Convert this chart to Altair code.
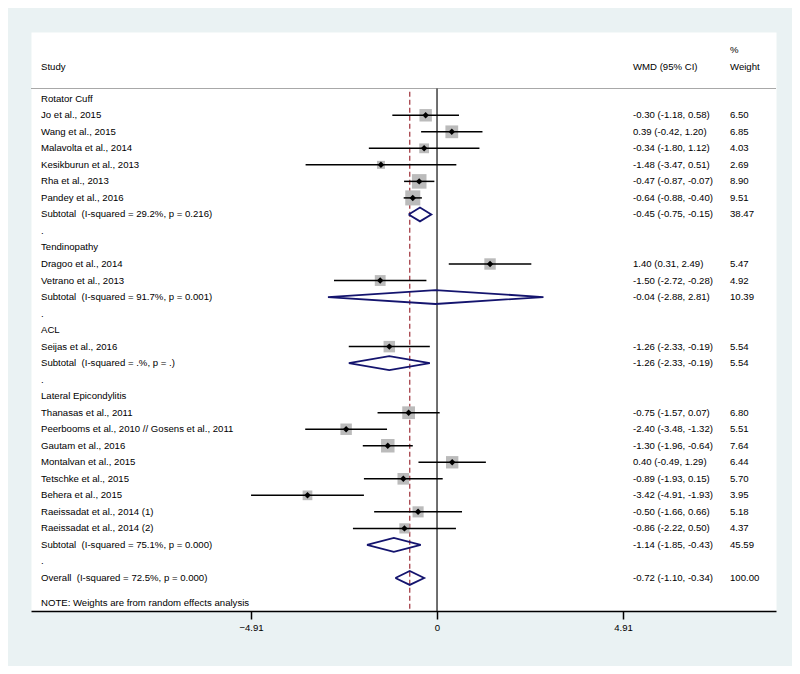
import altair as alt
import pandas as pd

# ---------------- data ----------------
labels = [
    "Rotator Cuff", "Jo et al., 2015", "Wang et al., 2015", "Malavolta et al., 2014",
    "Kesikburun et al., 2013", "Rha et al., 2013", "Pandey et al., 2016",
    "Subtotal\u00a0 (I-squared = 29.2%, p = 0.216)", ".",
    "Tendinopathy", "Dragoo et al., 2014", "Vetrano et al., 2013",
    "Subtotal\u00a0 (I-squared = 91.7%, p = 0.001)", ".",
    "ACL", "Seijas et al., 2016", "Subtotal\u00a0 (I-squared = .%, p = .)", ".",
    "Lateral Epicondylitis", "Thanasas et al., 2011",
    "Peerbooms et al., 2010 // Gosens et al., 2011", "Gautam et al., 2016",
    "Montalvan et al., 2015", "Tetschke et al., 2015", "Behera et al., 2015",
    "Raeissadat et al., 2014 (1)", "Raeissadat et al., 2014 (2)",
    "Subtotal\u00a0 (I-squared = 75.1%, p = 0.000)", ".",
    "Overall\u00a0 (I-squared = 72.5%, p = 0.000)",
]
kinds = (["group"] + ["study"] * 6 + ["pooled", "blank"]
         + ["group"] + ["study"] * 2 + ["pooled", "blank"]
         + ["group"] + ["study"] + ["pooled", "blank"]
         + ["group"] + ["study"] * 8 + ["pooled", "blank"]
         + ["pooled"])
est = [None, -0.30, 0.39, -0.34, -1.48, -0.47, -0.64, -0.45, None,
       None, 1.40, -1.50, -0.04, None,
       None, -1.26, -1.26, None,
       None, -0.75, -2.40, -1.30, 0.40, -0.89, -3.42, -0.50, -0.86, -1.14, None,
       -0.72]
lo = [None, -1.18, -0.42, -1.80, -3.47, -0.87, -0.88, -0.75, None,
      None, 0.31, -2.72, -2.88, None,
      None, -2.33, -2.33, None,
      None, -1.57, -3.48, -1.96, -0.49, -1.93, -4.91, -1.66, -2.22, -1.85, None,
      -1.10]
hi = [None, 0.58, 1.20, 1.12, 0.51, -0.07, -0.40, -0.15, None,
      None, 2.49, -0.28, 2.81, None,
      None, -0.19, -0.19, None,
      None, 0.07, -1.32, -0.64, 1.29, 0.15, -1.93, 0.66, 0.50, -0.43, None,
      -0.34]
weights = [None, 6.50, 6.85, 4.03, 2.69, 8.90, 9.51, 38.47, None,
           None, 5.47, 4.92, 10.39, None,
           None, 5.54, 5.54, None,
           None, 6.80, 5.51, 7.64, 6.44, 5.70, 3.95, 5.18, 4.37, 45.59, None,
           100.00]
tick_values = [-4.91, 0, 4.91]
overall_est = -0.72
note_text = "NOTE: Weights are from random effects analysis"

# ---------------- layout constants ----------------
W, H = 745, 579
XMIN, XMAX = -10.72, 8.95
YMIN, YMAX = -4.04, 31.0
HDR_ROW = -0.62
FONT = "Liberation Sans"
FS = 9.6
NAVY = "#14146E"
MAROON = "#9E3039"

rows = pd.DataFrame({"row": list(range(len(labels))), "label": labels, "kind": kinds,
                     "est": est, "lo": lo, "hi": hi, "wt": weights})


def ci_text(r):
    if pd.isna(r["est"]):
        return ""
    return f"{r['est']:.2f} ({r['lo']:.2f}, {r['hi']:.2f})"


rows["ci"] = rows.apply(ci_text, axis=1)
rows["wtxt"] = rows["wt"].apply(lambda v: "" if pd.isna(v) else f"{v:.2f}")
studies = rows[rows["kind"] == "study"].copy()
studies["area"] = studies["wt"] * 23.8
pooled = rows[rows["kind"] == "pooled"]

dh = 0.42
verts = []
for _, r in pooled.iterrows():
    pts = [(r["lo"], r["row"]), (r["est"], r["row"] - dh), (r["hi"], r["row"]),
           (r["est"], r["row"] + dh), (r["lo"], r["row"])]
    for k, (xx, yy) in enumerate(pts):
        verts.append({"id": int(r["row"]), "o": k, "x": xx, "y": yy})
diam = pd.DataFrame(verts)

xs = alt.Scale(domain=[XMIN, XMAX], nice=False, zero=False)
ys = alt.Scale(domain=[YMIN, YMAX], nice=False, zero=False, reverse=True)
AX = alt.Axis(values=tick_values, grid=False, title=None,
              labelExpr="datum.value == 0 ? '0' : format(datum.value, '.2f')")


def X(f):
    return alt.X(f, scale=xs, axis=AX, title=None)


def Y(f):
    return alt.Y(f, scale=ys, axis=None, title=None)


hdr = alt.Chart(pd.DataFrame({"a": [XMIN], "b": [XMAX], "y": [HDR_ROW]})).mark_rule(
    color="#A8A8A8", strokeWidth=1.2).encode(x=X("a:Q"), x2="b:Q", y=Y("y:Q"))

zero = alt.Chart(pd.DataFrame({"x": [0], "y": [HDR_ROW], "y2": [YMAX]})).mark_rule(
    color="#222222", strokeWidth=1.3).encode(x=X("x:Q"), y=Y("y:Q"), y2="y2:Q")

dash = alt.Chart(pd.DataFrame({"x": [overall_est], "y": [HDR_ROW + 0.2], "y2": [YMAX]})).mark_rule(
    color=MAROON, strokeWidth=1.2, strokeDash=[5, 3]).encode(x=X("x:Q"), y=Y("y:Q"), y2="y2:Q")

boxes = alt.Chart(studies).mark_square(color="#BBBBBB", opacity=1).encode(
    x=X("est:Q"), y=Y("row:Q"), size=alt.Size("area:Q", scale=None, legend=None))

cis = alt.Chart(studies).mark_rule(color="black", strokeWidth=1.5).encode(
    x=X("lo:Q"), x2="hi:Q", y=Y("row:Q"))

pts = alt.Chart(studies).mark_point(shape="diamond", filled=True, color="black",
                                    opacity=1, size=42).encode(x=X("est:Q"), y=Y("row:Q"))

dia = alt.Chart(diam).mark_line(color=NAVY, strokeWidth=1.8, strokeJoin="miter").encode(
    x=X("x:Q"), y=Y("y:Q"), detail="id:N", order="o:Q")

tstyle = dict(font=FONT, fontSize=FS, color="black", align="left", baseline="middle")
lab = alt.Chart(rows).mark_text(**tstyle).encode(x=alt.value(10), y=Y("row:Q"), text="label:N")
cit = alt.Chart(rows).mark_text(**tstyle).encode(x=alt.value(602), y=Y("row:Q"), text="ci:N")
wtt = alt.Chart(rows).mark_text(**tstyle).encode(x=alt.value(699), y=Y("row:Q"), text="wtxt:N")

head_left = alt.Chart(pd.DataFrame({"y": [-1.92, 30.49], "t": ["Study", note_text]})).mark_text(
    **tstyle).encode(x=alt.value(10), y=Y("y:Q"), text="t:N")
head_ci = alt.Chart(pd.DataFrame({"y": [-1.92], "t": ["WMD (95% CI)"]})).mark_text(
    **tstyle).encode(x=alt.value(602), y=Y("y:Q"), text="t:N")
head_w = alt.Chart(pd.DataFrame({"y": [-2.95, -1.92], "t": ["%", "Weight"]})).mark_text(
    **tstyle).encode(x=alt.value(699), y=Y("y:Q"), text="t:N")

chart = alt.layer(hdr, zero, dash, boxes, cis, pts, dia, lab, cit, wtt,
                  head_left, head_ci, head_w).properties(
    width=W, height=H,
    autosize=alt.AutoSizeParams(type="none"),
    padding={"left": 23, "top": 24, "right": 16, "bottom": 55},
    background="#EAF2F3",
).configure_view(fill="white", stroke="transparent").configure_axisX(
    domainColor="black", domainWidth=1.6, tickColor="black", tickWidth=1.5,
    tickSize=8, labelFont=FONT, labelFontSize=FS, labelColor="black",
    labelPadding=3,
)

chart.save("out.html", embed_options={"renderer": "svg", "actions": False})
